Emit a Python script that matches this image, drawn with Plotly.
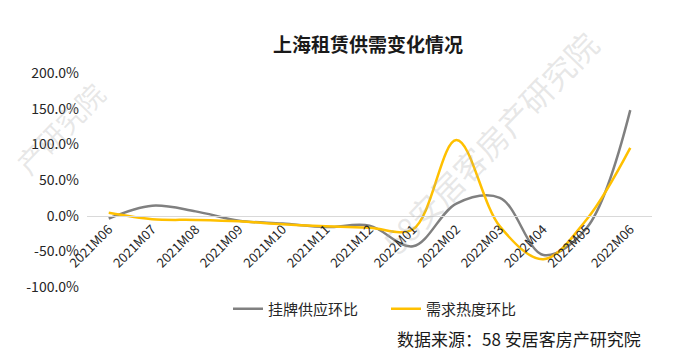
import plotly.graph_objects as go

categories = ["2021M06", "2021M07", "2021M08", "2021M09", "2021M10", "2021M11", "2021M12",
              "2022M01", "2022M02", "2022M03", "2022M04", "2022M05", "2022M06"]
supply_mom = [-4, 14, 6, -7, -11, -16, -14, -43, 17, 25, -55, -17, 148]
demand_mom = [4, -5, -6, -8, -12, -15, -17, -19, 106, -15, -61, -5, 95]
y_ticks = [-100, -50, 0, 50, 100, 150, 200]
y_tick_text = [f"{v:.1f}%" for v in y_ticks]

FONT = "Noto Sans CJK SC"
WM = dict(family=FONT, size=32, color="rgba(170,170,170,0.28)")

fig = go.Figure()
fig.add_trace(go.Scatter(
    x=categories, y=supply_mom, name="挂牌供应环比", mode="lines",
    line=dict(color="#808080", width=2.5, shape="spline", smoothing=1.0),
))
fig.add_trace(go.Scatter(
    x=categories, y=demand_mom, name="需求热度环比", mode="lines",
    line=dict(color="#FFC000", width=2.5, shape="spline", smoothing=1.0),
))

fig.update_layout(
    width=679, height=360,
    margin=dict(l=87, r=27, t=73, b=73, autoexpand=False),
    paper_bgcolor="white", plot_bgcolor="white",
    font=dict(family=FONT, color="#262626", size=13),
    title=dict(text="<b>上海租赁供需变化情况</b>", x=368 / 679, xanchor="center",
               y=1 - 45 / 360, yanchor="middle",
               font=dict(family=FONT, size=19, color="#1a1a1a")),
    showlegend=True,
    legend=dict(orientation="h", x=(228 - 87) / 565, xanchor="left", y=-0.103, yanchor="middle",
                font=dict(family=FONT, size=15, color="#262626"),
                itemwidth=30, entrywidth=113, entrywidthmode="pixels",
                tracegroupgap=0, traceorder="normal"),
    xaxis=dict(
        type="category", anchor="free", position=1 / 3, automargin=False,
        showline=True, linecolor="#d9d9d9", linewidth=1.3,
        showgrid=False, ticks="", tickangle=-45,
        tickfont=dict(family=FONT, size=13, color="#262626"),
        range=[-0.5, len(categories) - 0.5],
    ),
    yaxis=dict(
        range=[-100, 200], tickvals=y_ticks, ticktext=y_tick_text, automargin=False,
        showgrid=False, zeroline=False, showline=False, ticks="",
        ticklabelstandoff=7,
        tickfont=dict(family=FONT, size=14, color="#262626"),
    ),
    annotations=[
        dict(text="数据来源：58 安居客房产研究院", xref="paper", yref="paper",
             x=(643 - 87) / 565, y=(287 - 338) / 214, xanchor="right", yanchor="middle",
             showarrow=False, font=dict(family=FONT, size=17, color="#1a1a1a")),
        dict(text="58安居客房产研究院", xref="paper", yref="paper",
             x=(490 - 87) / 565, y=(287 - 142) / 214, xanchor="center", yanchor="middle",
             textangle=-46, showarrow=False, font=WM),
        dict(text="产研究院", xref="paper", yref="paper",
             x=(60 - 87) / 565, y=(287 - 128) / 214, xanchor="center", yanchor="middle",
             textangle=-46, showarrow=False,
             font=dict(family=FONT, size=28, color="rgba(170,170,170,0.28)")),
    ],
)

fig.write_html("out.html", config={"displayModeBar": False},
               post_script="document.body.style.margin='0';")
